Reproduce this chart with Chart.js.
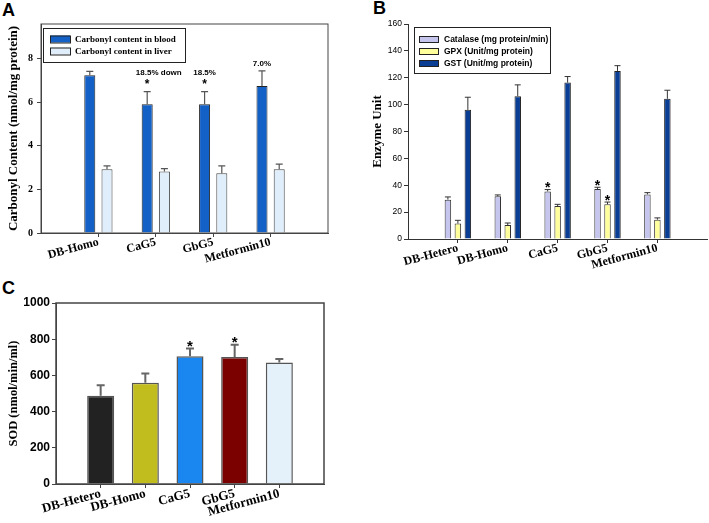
<!DOCTYPE html>
<html>
<head>
<meta charset="utf-8">
<script src="https://cdn.jsdelivr.net/npm/chart.js@4.4.0/dist/chart.umd.min.js"></script>
<style>
  body { margin: 0; background: #fff; width: 709px; height: 523px; position: relative; overflow: hidden; }
  canvas, .tag { position: absolute; }
  .tag { font: bold 18px "Liberation Sans", Arial, sans-serif; }
</style>
</head>
<body>
<div class="tag" style="left:2px;top:0px">A</div>
<div class="tag" style="left:373px;top:-2px">B</div>
<div class="tag" style="left:2px;top:278px">C</div>
<canvas id="chartA" width="345" height="270" style="left:0;top:0"></canvas>
<canvas id="chartB" width="354" height="290" style="left:355px;top:0"></canvas>
<canvas id="chartC" width="345" height="253" style="left:0;top:270px"></canvas>
<script>
// panel A - carbonyl content
const groupsA = ['DB-Homo', 'CaG5', 'GbG5', 'Metformin10'];
const bloodCarbonyl = [7.25, 5.91, 5.91, 6.75];
const bloodCarbonylErr = [0.17, 0.58, 0.58, 0.7];
const liverCarbonyl = [2.93, 2.82, 2.74, 2.93];
const liverCarbonylErr = [0.15, 0.14, 0.34, 0.23];
const bloodStars = [false, true, true, false];
const bloodNotes = ['', '18.5% down', '18.5%', '7.0%'];
const ticksA = [0, 2, 4, 6, 8];

// panel B - enzymes
const groupsB = ['DB-Hetero', 'DB-Homo', 'CaG5', 'GbG5', 'Metformin10'];
const catalase = [29.3, 31.8, 35.4, 37.2, 33.2];
const catalaseErr = [2, 1, 1.4, 1.3, 1.3];
const gpx = [11.5, 10.4, 24.5, 25.8, 14.4];
const gpxErr = [2.4, 1.5, 1.3, 1.7, 1.3];
const gst = [96.1, 106.3, 116.4, 125.1, 104.3];
const gstErr = [9.4, 8.4, 4.5, 3.9, 6.4];
const catalaseStars = [false, false, true, true, false];
const gpxStars = [false, false, false, true, false];
const ticksB = [0, 20, 40, 60, 80, 100, 120, 140, 160];

// panel C - SOD
const groupsC = ['DB-Hetero', 'DB-Homo', 'CaG5', 'GbG5', 'Metformin10'];
const sod = [487, 559, 706, 702, 671];
const sodErr = [59, 51, 42, 68, 20];
const sodStars = [false, false, true, true, false];
const sodColors = ['#222222', '#c2bd1e', '#1a86f0', '#7b0000', '#e4f0fa'];
const ticksC = [0, 200, 400, 600, 800, 1000];

const SERIF = '"Liberation Serif", "Times New Roman", serif';
const SANS = '"Liberation Sans", Arial, sans-serif';

// sigmaplot style: empty slot at both ends of the x axis
const pad = arr => [null, ...arr, null];
const padLabels = arr => ['', ...arr, ''];

const errorBars = {
  id: 'errorBars',
  afterDatasetsDraw(chart, args, o) {
    const ctx = chart.ctx;
    const y = chart.scales.y;
    chart.data.datasets.forEach((ds, i) => {
      if (!ds.errors) return;
      chart.getDatasetMeta(i).data.forEach((bar, j) => {
        const v = ds.data[j];
        if (v == null) return;
        const top = y.getPixelForValue(v + ds.errors[j]);
        ctx.save();
        ctx.strokeStyle = o.color;
        ctx.lineWidth = o.width;
        ctx.beginPath();
        ctx.moveTo(bar.x, bar.y);
        ctx.lineTo(bar.x, top);
        ctx.moveTo(bar.x - o.cap, top);
        ctx.lineTo(bar.x + o.cap, top);
        ctx.stroke();
        ctx.fillStyle = '#000';
        let mark = top - o.noteGap;
        if (ds.stars && ds.stars[j]) {
          const c = top - o.starGap;
          ctx.font = 'bold ' + o.starSize + 'px ' + SANS;
          ctx.textAlign = 'center';
          ctx.textBaseline = 'alphabetic';
          ctx.fillText('*', bar.x, c + 0.56 * o.starSize);
          mark = c - o.noteAbove;
        }
        if (ds.notes && ds.notes[j]) {
          const note = ds.notes[j];
          ctx.font = o.noteFont;
          ctx.textAlign = 'left';
          ctx.textBaseline = 'middle';
          const head = ctx.measureText(note.split(' ')[0]).width;
          ctx.fillText(note, bar.x - head / 2, mark);
        }
        ctx.restore();
      });
    });
  }
};

const boxLegend = {
  id: 'boxLegend',
  afterDraw(chart, args, o) {
    if (!o.w) return;
    const ctx = chart.ctx;
    ctx.save();
    ctx.strokeStyle = '#222';
    ctx.lineWidth = 1;
    ctx.strokeRect(o.x + 0.5, o.y + 0.5, o.w, o.h);
    chart.data.datasets.forEach((ds, i) => {
      const cy = Math.round(o.y + o.first + i * o.step);
      const sx = o.x + o.pad;
      ctx.fillStyle = ds.backgroundColor;
      ctx.fillRect(sx, cy - o.sh / 2, o.sw, o.sh);
      ctx.strokeRect(sx + 0.5, cy - o.sh / 2 + 0.5, o.sw, o.sh);
      ctx.fillStyle = '#000';
      ctx.font = o.font;
      ctx.textAlign = 'left';
      ctx.textBaseline = 'middle';
      ctx.fillText(ds.label, sx + o.sw + o.gap, cy + 0.5);
    });
    ctx.restore();
  }
};

const frame = {
  id: 'frame',
  afterDraw(chart, args, o) {
    if (!o.color) return;
    const a = chart.chartArea;
    const ctx = chart.ctx;
    ctx.save();
    ctx.strokeStyle = o.color;
    ctx.lineWidth = o.width;
    ctx.strokeRect(a.left, a.top, a.right - a.left, a.bottom - a.top);
    ctx.restore();
  }
};

function xAxis(labels, font, height, padding, color) {
  const last = labels.length - 1;
  return {
    type: 'category',
    offset: false,
    afterFit: s => { s.height = height; },
    border: { color: color, width: 1 },
    grid: {
      offset: false,
      drawOnChartArea: false,
      tickLength: 4,
      tickColor: c => (c.index === 0 || c.index === last) ? 'rgba(0,0,0,0)' : color
    },
    ticks: {
      autoSkip: false, minRotation: 15, maxRotation: 15, padding: padding,
      color: '#000', font: font
    }
  };
}

function yAxis(opts) {
  return {
    min: 0, max: opts.max,
    afterFit: s => { s.width = opts.width; },
    afterBuildTicks: s => { s.ticks = opts.ticks.map(v => ({ value: v })); },
    border: { color: opts.color, width: 1 },
    grid: { drawOnChartArea: false, tickLength: 4, color: opts.color },
    ticks: { padding: opts.padding, color: '#000', font: opts.tickFont, callback: v => String(v) },
    title: {
      display: true, text: opts.title, color: '#000',
      font: opts.titleFont, padding: { top: opts.titlePad, bottom: 0 }
    }
  };
}

const base = {
  animation: false,
  responsive: false,
  maintainAspectRatio: false,
  events: []
};

// ---------- A ----------
new Chart(document.getElementById('chartA'), {
  type: 'bar',
  data: {
    labels: padLabels(groupsA),
    datasets: [
      {
        label: 'Carbonyl content in blood',
        data: pad(bloodCarbonyl), errors: pad(bloodCarbonylErr),
        stars: pad(bloodStars), notes: pad(bloodNotes),
        backgroundColor: '#1360c7', borderColor: '#222', borderWidth: 1,
        categoryPercentage: 0.6, barPercentage: 0.64
      },
      {
        label: 'Carbonyl content in liver',
        data: pad(liverCarbonyl), errors: pad(liverCarbonylErr),
        backgroundColor: '#dfeefa', borderColor: '#444', borderWidth: 1,
        categoryPercentage: 0.6, barPercentage: 0.64
      }
    ]
  },
  options: {
    ...base,
    layout: { padding: { top: 24, right: 17, left: 0, bottom: 0 } },
    scales: {
      x: xAxis(padLabels(groupsA), { family: SERIF, size: 12, weight: 'bold' }, 37, -2, '#444'),
      y: yAxis({
        max: 9.6, ticks: ticksA, width: 41, padding: 4, color: '#444',
        tickFont: { family: SERIF, size: 10, weight: 'bold' },
        title: 'Carbonyl Content (nmol/mg protein)',
        titleFont: { family: SERIF, size: 13, weight: 'bold' }, titlePad: 6
      })
    },
    plugins: {
      legend: { display: false },
      tooltip: { enabled: false },
      errorBars: { color: '#555', width: 1.2, cap: 3.5, starSize: 12, starGap: 10.5, noteGap: 6.6, noteAbove: 8.7, noteFont: 'bold 8px ' + SANS },
      boxLegend: { x: 43, y: 28, w: 142, h: 34, pad: 7, sw: 20, sh: 7, first: 11, step: 12, gap: 5, font: 'bold 9px ' + SERIF },
      frame: { color: '#444', width: 1 }
    }
  },
  plugins: [errorBars, boxLegend, frame]
});

// ---------- B ----------
new Chart(document.getElementById('chartB'), {
  type: 'bar',
  data: {
    labels: padLabels(groupsB),
    datasets: [
      {
        label: 'Catalase (mg protein/min)',
        data: pad(catalase), errors: pad(catalaseErr), stars: pad(catalaseStars),
        backgroundColor: '#c5c5ee', borderColor: '#333', borderWidth: 1,
        categoryPercentage: 0.6, barPercentage: 0.65
      },
      {
        label: 'GPX (Unit/mg protein)',
        data: pad(gpx), errors: pad(gpxErr), stars: pad(gpxStars),
        backgroundColor: '#ffff9c', borderColor: '#333', borderWidth: 1,
        categoryPercentage: 0.6, barPercentage: 0.65
      },
      {
        label: 'GST (Unit/mg protein)',
        data: pad(gst), errors: pad(gstErr),
        backgroundColor: '#0a3e94', borderColor: '#222', borderWidth: 1,
        categoryPercentage: 0.6, barPercentage: 0.65
      }
    ]
  },
  options: {
    ...base,
    layout: { padding: { top: 24, right: 1, left: 0, bottom: 0 } },
    scales: {
      x: xAxis(padLabels(groupsB), { family: SERIF, size: 12, weight: 'bold' }, 51, -2, '#333'),
      y: yAxis({
        max: 160, ticks: ticksB, width: 53, padding: 2, color: '#333',
        tickFont: { family: SANS, size: 8.5 },
        title: 'Enzyme Unit',
        titleFont: { family: SERIF, size: 13, weight: 'bold' }, titlePad: 15
      })
    },
    plugins: {
      legend: { display: false },
      tooltip: { enabled: false },
      errorBars: { color: '#333', width: 1, cap: 3, starSize: 14, starGap: 5, noteGap: 6, noteAbove: 8, noteFont: 'bold 8px ' + SANS },
      boxLegend: { x: 59, y: 27, w: 136, h: 46, pad: 5, sw: 19, sh: 6, first: 12, step: 12, gap: 6, font: 'bold 8.5px ' + SANS },
      frame: {}
    }
  },
  plugins: [errorBars, boxLegend, frame]
});

// ---------- C ----------
new Chart(document.getElementById('chartC'), {
  type: 'bar',
  data: {
    labels: padLabels(groupsC),
    datasets: [
      {
        label: 'SOD',
        data: pad(sod), errors: pad(sodErr), stars: pad(sodStars),
        backgroundColor: pad(sodColors), borderColor: '#555', borderWidth: 1.5,
        categoryPercentage: 1, barPercentage: 0.605
      }
    ]
  },
  options: {
    ...base,
    layout: { padding: { top: 33, right: 21, left: 0, bottom: 0 } },
    scales: {
      x: xAxis(padLabels(groupsC), { family: SERIF, size: 13, weight: 'bold' }, 39, -2, '#444'),
      y: yAxis({
        max: 1000, ticks: ticksC, width: 56, padding: 2, color: '#444',
        tickFont: { family: SANS, size: 12, weight: 'bold' },
        title: 'SOD (nmol/min/ml)',
        titleFont: { family: SERIF, size: 12.5, weight: 'bold' }, titlePad: 6
      })
    },
    plugins: {
      legend: { display: false },
      tooltip: { enabled: false },
      errorBars: { color: '#666', width: 2, cap: 4, starSize: 15, starGap: 6, noteGap: 6, noteAbove: 8, noteFont: 'bold 8px ' + SANS },
      boxLegend: {},
      frame: { color: '#444', width: 1.5 }
    }
  },
  plugins: [errorBars, boxLegend, frame]
});
</script>
</body>
</html>
